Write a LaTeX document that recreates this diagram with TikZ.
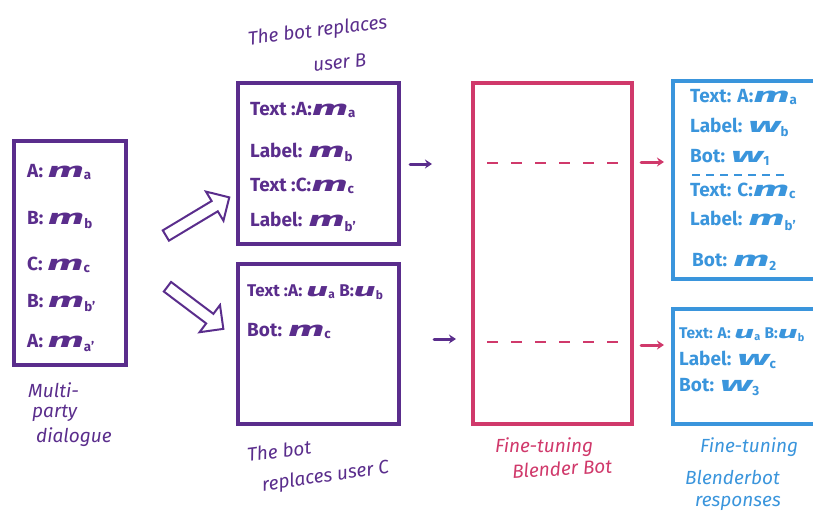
\documentclass[tikz,border=0pt]{standalone}
\usepackage{fontspec}
\usepackage{graphicx}
\setmainfont{Fira Sans}
\usetikzlibrary{shapes.arrows,arrows.meta}
\definecolor{purp}{HTML}{5A2D8C}
\definecolor{pinkc}{HTML}{D0396B}
\definecolor{bluec}{HTML}{3A95DC}
\newcommand{\wm}[2]{\scalebox{2.3}[1.1]{\itshape #1}\textsubscript{#2}}
\begin{document}
\begin{tikzpicture}[x=1pt,y=-1pt,
  box/.style={draw,line width=4pt,inner sep=0pt},
  txt/.style={anchor=west,inner sep=0pt,font=\fontsize{19}{22}\selectfont\bfseries},
  stxt/.style={anchor=west,inner sep=0pt,font=\fontsize{17}{20}\selectfont\bfseries},
  xstxt/.style={anchor=west,inner sep=0pt,font=\fontsize{15.5}{18}\selectfont\bfseries},
  captxt/.style={inner sep=0pt,anchor=west,font=\fontsize{19}{22}\selectfont\itshape},
  hollow/.style={single arrow,draw=purp,fill=white,line width=2pt,inner sep=5pt,
    single arrow head extend=11pt,minimum height=#1},
  smallarr/.style={-{Stealth[length=7pt,width=9pt]},line width=3pt,line cap=round},
  dashline/.style={line width=2.5pt,dash pattern=on 11pt off 13pt}
]
\useasboundingbox (0,0) rectangle (813,517);
\begin{scope}
\clip (0,0) rectangle (813,517);

% left box
\node[box,draw=purp,minimum width=112pt,minimum height=224pt] (left) at (70,252.5) {};
\begin{scope}[every node/.style={txt,text=purp}]
\node (l1) at (27,172) {A: \wm{m}{a}};
\node (l2) at (27,220) {B: \wm{m}{b}};
\node (l3) at (27,265) {C: \wm{m}{c}};
\node (l4) at (27,303) {B: \wm{m}{b'}};
\node (l5) at (27,343) {A: \wm{m}{a'}};
\end{scope}
\begin{scope}[every node/.style={captxt,text=purp}]
\node (c1) at (28,390) {Multi-};
\node (c2) at (32,413) {party};
\node (c3) at (36,437) {dialogue};
\end{scope}

% hollow arrows
\node[hollow=74pt,rotate=31] (ha1) at (195,218) {};
\node[hollow=70pt,rotate=-37] (ha2) at (193,306) {};

% top middle box
\node[box,draw=purp,minimum width=161pt,minimum height=161pt] (tm) at (318.5,163.5) {};
\begin{scope}[every node/.style={txt,text=purp}]
\node (t1) at (250,110) {Text :A:\wm{m}{a}};
\node (t2) at (250,152) {Label: \wm{m}{b}};
\node (t3) at (250,186) {Text :C:\wm{m}{c}};
\node (t4) at (250,222) {Label: \wm{m}{b'}};
\end{scope}
\node[captxt,text=purp,rotate=7] (tc1) at (248,40) {The bot replaces};
\node[captxt,text=purp,rotate=6] (tc2) at (313,65) {user B};

% bottom middle box
\node[box,draw=purp,minimum width=161pt,minimum height=160pt] (bm) at (318.5,344) {};
\node[stxt,text=purp] (b1) at (247,292) {Text :A: \wm{u}{a} B:\wm{u}{b}};
\node[txt,text=purp] (b2) at (247,331) {Bot: \wm{m}{c}};
\node[captxt,text=purp,rotate=7] (bc1) at (247,455) {The bot};
\node[captxt,text=purp,rotate=8] (bc2) at (262,486) {replaces user C};

% pink box
\node[box,draw=pinkc,minimum width=159pt,minimum height=341pt] (pink) at (552.5,253.5) {};
\coordinate (d1a) at (487,163); \coordinate (d1b) at (622,163);
\coordinate (d2a) at (487,342); \coordinate (d2b) at (622,342);
\draw[dashline,pinkc] (d1a) -- (d1b);
\draw[dashline,pinkc] (d2a) -- (d2b);
\node[captxt,text=pinkc] (pc1) at (495,447) {Fine-tuning};
\node[captxt,text=pinkc,rotate=3] (pc2) at (512,471) {Blender Bot};

% small purple arrows
\coordinate (sa1) at (410,164); \coordinate (sa1e) at (432,164);
\coordinate (sa2) at (434,339); \coordinate (sa2e) at (456,339);
\draw[smallarr,purp] (sa1) -- (sa1e);
\draw[smallarr,purp] (sa2) -- (sa2e);

% pink arrows
\coordinate (pa1) at (641,162); \coordinate (pa1e) at (664,162);
\coordinate (pa2) at (641,345); \coordinate (pa2e) at (664,345);
\draw[smallarr,pinkc] (pa1) -- (pa1e);
\draw[smallarr,pinkc] (pa2) -- (pa2e);

% blue boxes
\node[box,draw=bluec,minimum width=157pt,minimum height=198pt] (bt) at (751.5,180) {};
\begin{scope}[every node/.style={txt,text=bluec}]
\node (r1) at (690,97) {Text: A:\wm{m}{a}};
\node (r2) at (690,127) {Label: \wm{w}{b}};
\node (r3) at (690,157) {Bot: \wm{w}{1}};
\node (r4) at (690,191) {Text: C:\wm{m}{c}};
\node (r5) at (690,221) {Label: \wm{m}{b'}};
\node (r6) at (692,262) {Bot: \wm{m}{2}};
\end{scope}
\coordinate (bd1) at (692,175); \coordinate (bd2) at (788,175);
\draw[bluec,line width=2pt,dash pattern=on 8pt off 6pt] (bd1) -- (bd2);

\node[box,draw=bluec,minimum width=157pt,minimum height=115pt] (bb) at (751.5,366.5) {};
\node[xstxt,text=bluec] (s1) at (679,335) {Text: A: \wm{u}{a} B:\wm{u}{b}};
\node[txt,text=bluec] (s2) at (679,360) {Label: \wm{w}{c}};
\node[txt,text=bluec] (s3) at (679,387) {Bot: \wm{w}{3}};
\begin{scope}[every node/.style={captxt,text=bluec}]
\node (bc3) at (700,447) {Fine-tuning};
\node (bc4) at (685,477) {Blenderbot};
\node (bc5) at (695,503) {responses};
\end{scope}
\end{scope}
\end{tikzpicture}
\end{document}
